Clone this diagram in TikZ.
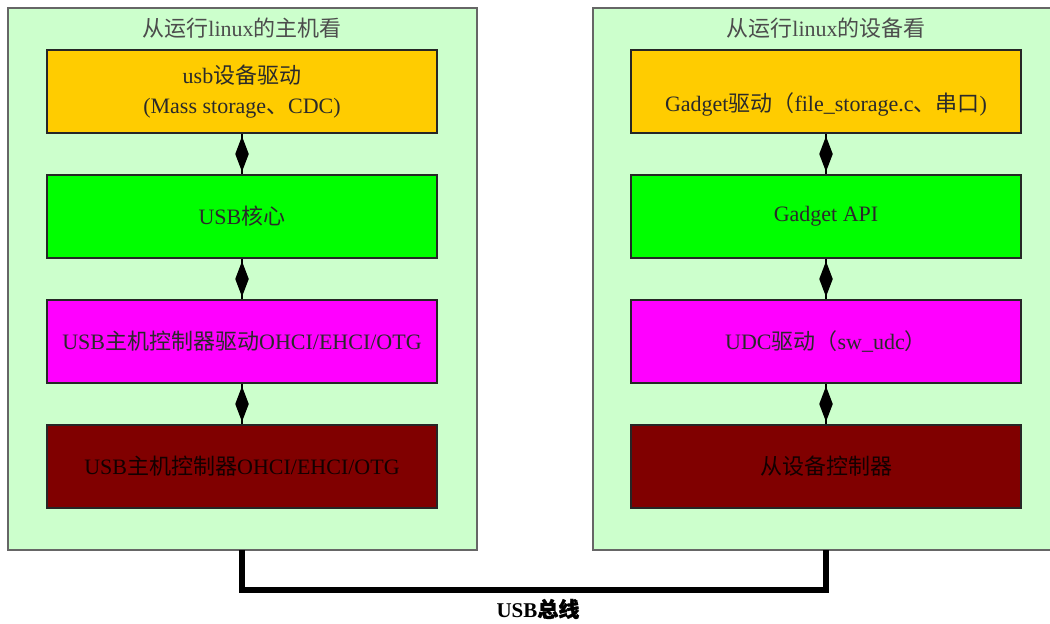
\documentclass[tikz,border=0pt]{standalone}
\usepackage{fontspec}
\setmainfont{Liberation Serif}
\newfontfamily\cjk{Noto Sans CJK SC}
\newfontfamily\cjkb[FakeBold=1.5]{Noto Sans CJK SC}
\usetikzlibrary{shapes.geometric}
\definecolor{cont}{HTML}{CCFFCC}
\definecolor{contline}{HTML}{666666}
\definecolor{ybox}{HTML}{FFCC00}
\definecolor{gbox}{HTML}{00FF00}
\definecolor{mbox}{HTML}{FF00FF}
\definecolor{rbox}{HTML}{800000}
\definecolor{txt}{HTML}{2A2A2A}
\begin{document}
\begin{tikzpicture}[x=1pt,y=-1pt,
  container/.style={draw=contline, line width=1.8pt, fill=cont},
  layer/.style={draw=black!85, line width=1.6pt, minimum width=390pt, minimum height=83pt, inner sep=0pt, font=\fontsize{22}{30}\selectfont, text=txt, align=center},
  title/.style={font=\fontsize{22}{26}\selectfont, text=black!70, inner sep=0pt},
  link/.style={line width=1.2pt, draw=black},
  kite/.style={diamond, fill=black, inner sep=0pt, minimum width=14pt, minimum height=36pt},
  bus/.style={line width=5.5pt, draw=black, line join=miter},
  buslabel/.style={font=\fontsize{21}{24}\selectfont\bfseries, inner sep=0pt}]
\useasboundingbox (0,0) rectangle (1050,624);
\clip (0,0) rectangle (1050,624);
\fill[white] (0,0) rectangle (1050,624);
% containers
\draw[container] (8,8) rectangle (477,550);
\draw[container] (593,8) rectangle (1065,550);
\coordinate (Lbot) at (242,550);
\coordinate (Rbot) at (826,550);
\node[title] (tl) at (242,28) {{\cjk 从运行}linux{\cjk 的主机看}};
\node[title] (tr) at (826,28) {{\cjk 从运行}linux{\cjk 的设备看}};
% left stack
\node[layer, fill=ybox] (l1) at (242,91.5) {usb{\cjk 设备驱动}\\(Mass storage{\cjk 、}CDC)};
\node[layer, fill=gbox] (l2) at (242,216.5) {USB{\cjk 核心}};
\node[layer, fill=mbox] (l3) at (242,341.5) {USB{\cjk 主机控制器驱动}OHCI/EHCI/OTG};
\node[layer, fill=rbox, text=black!85!rbox] (l4) at (242,466.5) {USB{\cjk 主机控制器}OHCI/EHCI/OTG};
% right stack
\node[layer, fill=ybox] (r1) at (826,91.5) {\phantom{X}\\Gadget{\cjk 驱动（}file\_storage.c{\cjk 、串口}){\vphantom{X}}};
\node[layer, fill=gbox] (r2) at (826,216.5) {Gadget API};
\node[layer, fill=mbox] (r3) at (826,341.5) {UDC{\cjk 驱动（}sw\_udc{\cjk ）}};
\node[layer, fill=rbox, text=black!85!rbox] (r4) at (826,466.5) {{\cjk 从设备控制器}};
% links
\foreach \a/\b in {l1/l2,l2/l3,l3/l4,r1/r2,r2/r3,r3/r4}{
  \draw[link] (\a.south) -- (\b.north) node[midway, kite] {};
}
% bus
\draw[bus] (Lbot) -- ++(0,40) coordinate (bl) -| (Rbot);
\node[buslabel] (bus) at (538,609) {USB{\cjkb 总线}};
\end{tikzpicture}
\end{document}
